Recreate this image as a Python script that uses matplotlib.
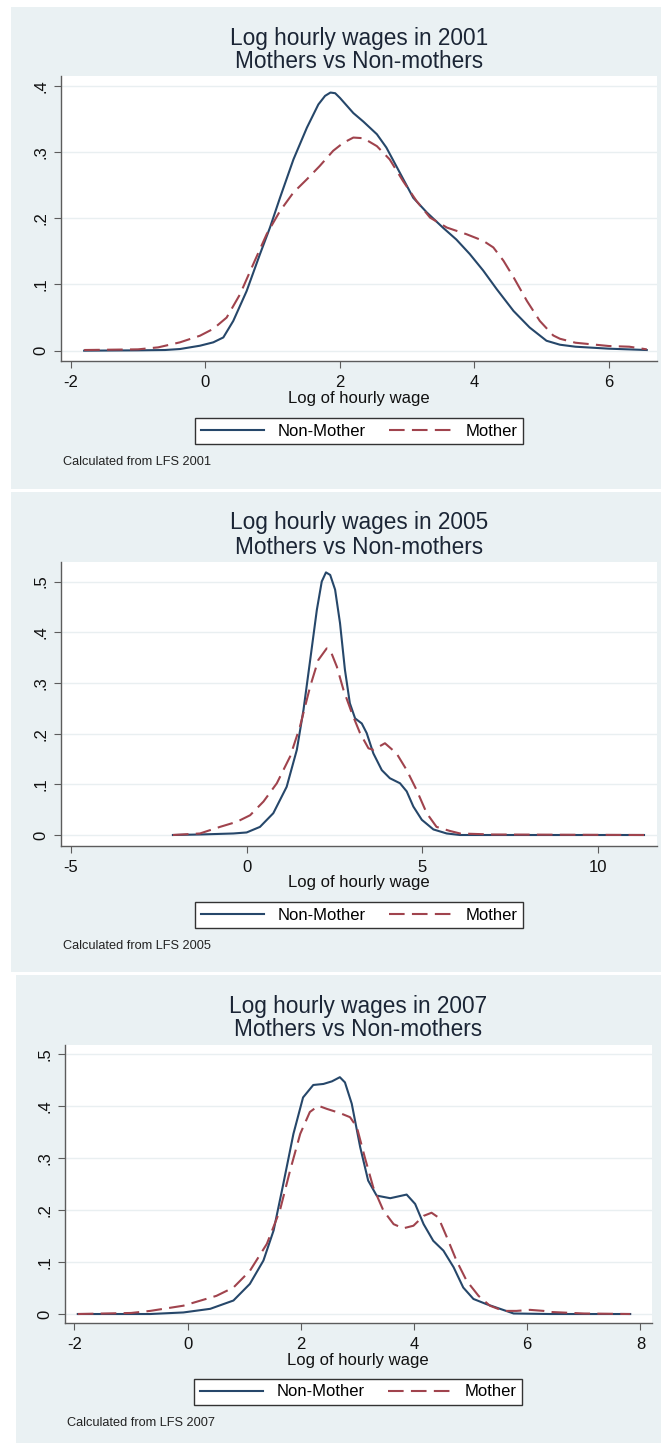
"""Kernel density of log hourly wages, mothers vs non-mothers (LFS 2001, 2005, 2007)."""

import matplotlib

matplotlib.use("Agg")
import matplotlib.pyplot as plt
from matplotlib.lines import Line2D
from matplotlib.patches import Rectangle

plt.rcParams.update({
    "font.family": ["Liberation Sans", "DejaVu Sans"],
    "figure.dpi": 100,
    "savefig.dpi": 100,
})

W, H = 661, 1443

YEARS = [2001, 2005, 2007]
SERIES_LABELS = ["Non-Mother", "Mother"]

# 2001 densities
x01_non = [-1.80, -1.0, -0.6, -0.376, -0.079, 0.119, 0.268, 0.416, 0.614, 0.813, 0.961,
           1.11, 1.31, 1.51, 1.68, 1.78, 1.86, 1.93, 2.00, 2.20, 2.35, 2.55, 2.69, 2.89,
           3.09, 3.29, 3.53, 3.73, 3.93, 4.13, 4.33, 4.58, 4.82, 5.07, 5.27, 5.5,
           6.0, 6.56]
y01_non = [0.0, 0.0005, 0.001, 0.0025, 0.0075, 0.0126, 0.020, 0.045, 0.090, 0.146, 0.186,
           0.231, 0.289, 0.337, 0.372, 0.385, 0.390, 0.389, 0.382, 0.359, 0.346, 0.327, 0.307,
           0.269, 0.231, 0.209, 0.186, 0.168, 0.146, 0.121, 0.093, 0.060, 0.035, 0.015, 0.009,
           0.006, 0.003, 0.001]
x01_mom = [-1.80, -1.0, -0.7, -0.376, -0.079, 0.119, 0.317, 0.515, 0.714, 0.912, 1.11,
           1.31, 1.51, 1.70, 1.90, 2.05, 2.20, 2.35, 2.55, 2.74, 2.94, 3.14, 3.34,
           3.59, 3.88, 4.13, 4.28, 4.43, 4.58, 4.78, 4.97, 5.17, 5.27, 5.5, 6.0,
           6.3, 6.56]
y01_mom = [0.001, 0.002, 0.005, 0.0126, 0.0226, 0.033, 0.050, 0.085, 0.131, 0.176, 0.211,
           0.239, 0.259, 0.279, 0.302, 0.314, 0.322, 0.321, 0.309, 0.289, 0.256, 0.226, 0.201,
           0.186, 0.176, 0.166, 0.156, 0.136, 0.111, 0.075, 0.045, 0.023, 0.018, 0.012, 0.007,
           0.006, 0.002]

# 2005 densities
x05_non = [-2.10, -1.33, -0.38, 0.0, 0.38, 0.76, 1.14, 1.43, 1.62, 1.81, 2.00, 2.14,
           2.26, 2.38, 2.52, 2.66, 2.80, 2.94, 3.09, 3.28, 3.42, 3.61, 3.85, 4.08,
           4.37, 4.56, 4.75, 4.99, 5.32, 5.70, 6.08, 8.0, 11.32]
y05_non = [0.0, 0.001, 0.003, 0.005, 0.016, 0.043, 0.095, 0.168, 0.247, 0.345, 0.444, 0.500,
           0.518, 0.513, 0.484, 0.418, 0.326, 0.260, 0.230, 0.220, 0.201, 0.161, 0.128, 0.112,
           0.102, 0.086, 0.056, 0.030, 0.011, 0.003, 0.0, 0.0, 0.0]
x05_mom = [-2.10, -1.33, -0.76, -0.28, 0.10, 0.48, 0.86, 1.24, 1.52, 1.81, 2.04, 2.28,
           2.38, 2.57, 2.76, 3.00, 3.23, 3.47, 3.61, 3.94, 4.27, 4.56, 4.84, 5.13,
           5.41, 5.79, 6.08, 7.0, 11.32]
y05_mom = [0.0, 0.003, 0.016, 0.026, 0.039, 0.066, 0.102, 0.155, 0.214, 0.293, 0.345, 0.368,
           0.365, 0.332, 0.286, 0.240, 0.201, 0.171, 0.168, 0.181, 0.161, 0.128, 0.089, 0.043,
           0.016, 0.008, 0.003, 0.001, 0.0]

# 2007 densities
x07_non = [-1.94, -0.66, -0.075, 0.40, 0.81, 1.10, 1.34, 1.52, 1.69, 1.87, 2.04, 2.22,
           2.40, 2.55, 2.69, 2.78, 2.90, 3.05, 3.19, 3.34, 3.58, 3.87, 4.02, 4.17,
           4.34, 4.52, 4.70, 4.87, 5.05, 5.28, 5.52, 5.76, 6.40, 7.82]
y07_non = [0.0, 0.0, 0.003, 0.010, 0.026, 0.058, 0.103, 0.161, 0.250, 0.347, 0.417, 0.441,
           0.443, 0.448, 0.456, 0.446, 0.405, 0.321, 0.257, 0.228, 0.223, 0.230, 0.212, 0.173,
           0.141, 0.122, 0.090, 0.051, 0.029, 0.019, 0.010, 0.001, 0.0, 0.0]
x07_mom = [-1.94, -1.0, -0.66, -0.075, 0.51, 0.81, 1.10, 1.40, 1.63, 1.81, 1.99, 2.16,
           2.31, 2.46, 2.69, 2.87, 2.99, 3.13, 3.28, 3.46, 3.64, 3.81, 3.99, 4.17,
           4.31, 4.43, 4.58, 4.75, 4.93, 5.14, 5.34, 5.58, 5.81, 6.05, 6.29, 6.40,
           7.0, 7.82]
y07_mom = [0.0, 0.002, 0.006, 0.016, 0.035, 0.051, 0.083, 0.135, 0.199, 0.276, 0.347, 0.389,
           0.401, 0.395, 0.387, 0.379, 0.360, 0.302, 0.244, 0.199, 0.173, 0.165, 0.170, 0.189,
           0.195, 0.186, 0.148, 0.103, 0.064, 0.035, 0.016, 0.006, 0.006, 0.008, 0.006, 0.004,
           0.001, 0.0]

x_ticks = [[-2, 0, 2, 4, 6], [-5, 0, 5, 10], [-2, 0, 2, 4, 6, 8]]
y_ticks = [[0, 0.1, 0.2, 0.3, 0.4], [0, 0.1, 0.2, 0.3, 0.4, 0.5],
           [0, 0.1, 0.2, 0.3, 0.4, 0.5]]
y_tick_labels = [["0", ".1", ".2", ".3", ".4"], ["0", ".1", ".2", ".3", ".4", ".5"],
                 ["0", ".1", ".2", ".3", ".4", ".5"]]

curves = [
    ((x01_non, y01_non), (x01_mom, y01_mom)),
    ((x05_non, y05_non), (x05_mom, y05_mom)),
    ((x07_non, y07_non), (x07_mom, y07_mom)),
]

BG = "#eaf1f3"
NAVY = "#26476a"
MAROON = "#a0434d"
AXIS_GREY = "#5c5c5c"
TITLE_COL = "#1b2535"
DASHES = (7.5, 3.5)

# page layout in pixels: background box, plot box, limits, text rows
LAYOUT = [
    dict(bg=(11, 7, 661, 489), box=(61, 76, 657, 361),
         xlim=(-2.144, 6.712), ylim=(-0.0156, 0.415),
         title_y=(38, 62), cx=359, xlabel_y=398, legend_y=431, note=(63, 462)),
    dict(bg=(11, 492, 661, 972), box=(61, 562, 657, 846),
         xlim=(-5.288, 11.69), ylim=(-0.0217, 0.5385),
         title_y=(523, 547), cx=359, xlabel_y=882, legend_y=915, note=(63, 946)),
    dict(bg=(16, 975, 661, 1443), box=(65, 1045, 652, 1323),
         xlim=(-2.166, 8.205), ylim=(-0.0173, 0.518),
         title_y=(1007, 1030), cx=358, xlabel_y=1360, legend_y=1392, note=(67, 1423)),
]


def fx(px):
    return px / W


def fy(py):
    return 1 - py / H


def main() -> None:
    fig = plt.figure(figsize=(W / 100, H / 100))
    fig.patch.set_facecolor("white")

    for i, lay in enumerate(LAYOUT):
        x0, y0, x1, y1 = lay["bg"]
        fig.patches.append(Rectangle((fx(x0), fy(y1)), fx(x1 - x0), (y1 - y0) / H,
                                     transform=fig.transFigure, facecolor=BG,
                                     edgecolor="none", zorder=0))

        l, t, r, b = lay["box"]
        ax = fig.add_axes([fx(l), fy(b), fx(r - l), (b - t) / H])
        ax.set_facecolor("white")
        ax.set_zorder(2)

        (xn, yn), (xm, ym) = curves[i]
        ax.plot(xn, yn, color=NAVY, lw=1.5, solid_joinstyle="round", zorder=3)
        ax.plot(xm, ym, color=MAROON, lw=1.5, dashes=DASHES, zorder=3)

        ax.set_xlim(*lay["xlim"])
        ax.set_ylim(*lay["ylim"])
        ax.set_xticks(x_ticks[i])
        ax.set_xticklabels([str(v) for v in x_ticks[i]])
        ax.set_yticks(y_ticks[i])
        ax.set_yticklabels(y_tick_labels[i], rotation=90, va="center")

        for side in ("top", "right"):
            ax.spines[side].set_visible(False)
        for side in ("left", "bottom"):
            ax.spines[side].set_color(AXIS_GREY)
            ax.spines[side].set_linewidth(1.0)
        ax.tick_params(axis="both", direction="out", length=5, width=0.8,
                       color=AXIS_GREY, labelcolor="#111111", labelsize=12)
        ax.tick_params(axis="x", pad=5)
        ax.tick_params(axis="y", pad=4)
        ax.yaxis.grid(True, color="#e9eff1", lw=1.0, zorder=1)
        ax.set_axisbelow(True)

        t1, t2 = lay["title_y"]
        fig.text(fx(lay["cx"]), fy(t1), f"Log hourly wages in {YEARS[i]}",
                 ha="center", va="center", fontsize=16.3, color=TITLE_COL)
        fig.text(fx(lay["cx"]), fy(t2), "Mothers vs Non-mothers",
                 ha="center", va="center", fontsize=16.3, color=TITLE_COL)
        fig.text(fx(lay["cx"]), fy(lay["xlabel_y"]), "Log of hourly wage",
                 ha="center", va="center", fontsize=12, color="#111111")

        handles = [Line2D([], [], color=NAVY, lw=1.5),
                   Line2D([], [], color=MAROON, lw=1.5, dashes=DASHES)]
        leg = fig.legend(handles, SERIES_LABELS, loc="center",
                         bbox_to_anchor=(fx(lay["cx"]), fy(lay["legend_y"])),
                         ncol=2, fontsize=12, frameon=True, fancybox=False,
                         framealpha=1, edgecolor="#333333", facecolor="white",
                         borderpad=0.35, handlelength=3.8, handletextpad=0.8,
                         columnspacing=1.4)
        leg.get_frame().set_linewidth(1.0)

        nx, ny = lay["note"]
        fig.text(fx(nx), fy(ny), f"Calculated from LFS {YEARS[i]}",
                 ha="left", va="center", fontsize=9.2, color="#222222")

    fig.savefig("out.png", dpi=100)
    plt.close(fig)


if __name__ == "__main__":
    main()
